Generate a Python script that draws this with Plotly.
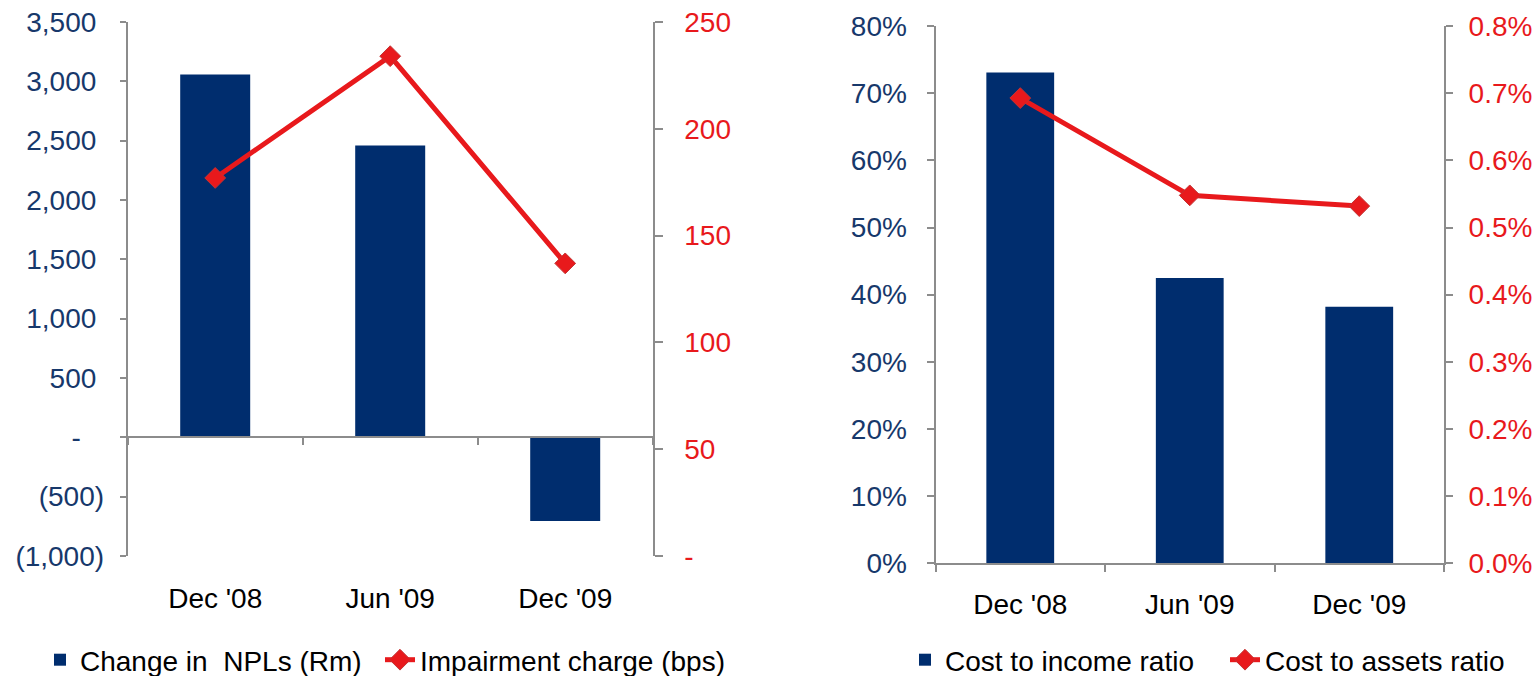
import plotly.graph_objects as go

# ---- data ----
periods = ["Dec '08", "Jun '09", "Dec '09"]
npl_change_rm = [3058, 2460, -705]
impairment_bps = [177, 234, 137]
cost_income_pct = [73.1, 42.5, 38.2]
cost_assets_pct = [0.693, 0.548, 0.532]

npl_tickvals = [-1000, -500, 0, 500, 1000, 1500, 2000, 2500, 3000, 3500]
bps_tickvals = [0, 50, 100, 150, 200, 250]
ci_tickvals = [0, 10, 20, 30, 40, 50, 60, 70, 80]
ca_tickvals = [0.0, 0.1, 0.2, 0.3, 0.4, 0.5, 0.6, 0.7, 0.8]

# ---- styling ----
NAVY = "#002D6E"
BLUE_TXT = "#17386B"
RED = "#E8191C"
RED_EDGE = "#C23434"
AXIS_GREY = "#8C8C8C"
FONT = "Liberation Sans, Arial, sans-serif"
FS = 28
NBSP = "\u00a0"


def accounting(v):
    """Excel-style accounting format: negatives in brackets, zero as a dash."""
    if v == 0:
        return "-" + NBSP * 3
    if v < 0:
        return "({:,.0f})".format(-v)
    return "{:,.0f}".format(v) + NBSP


npl_ticktext = [accounting(v) for v in npl_tickvals]
bps_ticktext = ["-" if v == 0 else str(v) for v in bps_tickvals]
ci_ticktext = ["{:.0f}%".format(v) for v in ci_tickvals]
ca_ticktext = ["{:.1f}%".format(v) for v in ca_tickvals]

fig = go.Figure()

# left panel
fig.add_trace(go.Bar(
    x=periods, y=npl_change_rm, name="Change in  NPLs (Rm)",
    marker=dict(color=NAVY, line=dict(width=0)), width=0.4,
    xaxis="x", yaxis="y", legend="legend",
))
fig.add_trace(go.Scatter(
    x=periods, y=impairment_bps, name="Impairment charge (bps)",
    mode="lines+markers",
    line=dict(color=RED, width=5),
    marker=dict(symbol="diamond", size=16, color=RED,
                line=dict(color=RED_EDGE, width=1)),
    xaxis="x", yaxis="y2", legend="legend2",
))
# carrier for the horizontal axis drawn through zero
fig.add_trace(go.Scatter(
    x=[-0.5, 2.5], y=[0, 0], mode="lines",
    line=dict(width=0, color="rgba(0,0,0,0)"),
    xaxis="x3", yaxis="y", showlegend=False, hoverinfo="skip",
))

# right panel
fig.add_trace(go.Bar(
    x=periods, y=cost_income_pct, name="Cost to income ratio",
    marker=dict(color=NAVY, line=dict(width=0)), width=0.4,
    xaxis="x2", yaxis="y3", legend="legend3",
))
fig.add_trace(go.Scatter(
    x=periods, y=cost_assets_pct, name="Cost to assets ratio",
    mode="lines+markers",
    line=dict(color=RED, width=5),
    marker=dict(symbol="diamond", size=16, color=RED,
                line=dict(color=RED_EDGE, width=1)),
    xaxis="x2", yaxis="y4", legend="legend4",
))

W, H = 1536, 676
M_T, M_B = 22, 113
PH = H - M_T - M_B

left_dom_x = [127.7 / W, 652.7 / W]
right_dom_x = [935.5 / W, 1444 / W]
left_dom_y = [(H - M_B - 556) / PH, 1.0]
right_dom_y = [0.0, (H - M_B - 26.3) / PH]

npl_lo, npl_hi = -1000, 3500
zero_frac = (0 - npl_lo) / (npl_hi - npl_lo)
zero_pos = left_dom_y[0] + zero_frac * (left_dom_y[1] - left_dom_y[0])

yaxis_common = dict(
    showgrid=False, zeroline=False,
    showline=True, linecolor=AXIS_GREY, linewidth=2,
    ticks="outside", tickcolor=AXIS_GREY, tickwidth=2,
)

legend_common = dict(
    orientation="h", yanchor="middle", xanchor="left",
    y=(H - M_B - 660) / PH,
    bgcolor="rgba(0,0,0,0)", borderwidth=0,
    font=dict(family=FONT, size=FS, color="black"),
    itemclick=False, itemdoubleclick=False,
)

fig.update_layout(
    width=W, height=H,
    margin=dict(l=0, r=0, t=M_T, b=M_B, autoexpand=False),
    paper_bgcolor="white", plot_bgcolor="white",
    font=dict(family=FONT, size=FS, color="black"),
    showlegend=True,
    barmode="overlay",
    xaxis=dict(
        domain=left_dom_x, anchor="y", type="category",
        categoryorder="array", categoryarray=periods, range=[-0.5, 2.5],
        showline=False, ticks="", showgrid=False, zeroline=False,
        tickfont=dict(family=FONT, size=FS, color="black"),
        ticklabelstandoff=23,
    ),
    # horizontal axis line through zero with category boundary ticks
    xaxis3=dict(
        overlaying="x", anchor="free", position=zero_pos, type="linear",
        range=[-0.5, 2.5], tickmode="array", tickvals=[-0.5, 0.5, 1.5, 2.5],
        showticklabels=False, showgrid=False, zeroline=False,
        showline=True, linecolor=AXIS_GREY, linewidth=2,
        ticks="outside", ticklen=7, tickcolor=AXIS_GREY, tickwidth=2,
    ),
    yaxis=dict(
        domain=left_dom_y, anchor="x", range=[npl_lo, npl_hi],
        tickmode="array", tickvals=npl_tickvals, ticktext=npl_ticktext,
        ticklen=6, ticklabelstandoff=10,
        tickfont=dict(family=FONT, size=FS, color=BLUE_TXT),
        **yaxis_common,
    ),
    yaxis2=dict(
        overlaying="y", side="right", anchor="x", range=[0, 250],
        tickmode="array", tickvals=bps_tickvals, ticktext=bps_ticktext,
        ticklen=8, ticklabelstandoff=16,
        tickfont=dict(family=FONT, size=FS, color=RED),
        **yaxis_common,
    ),
    xaxis2=dict(
        domain=right_dom_x, anchor="y3", type="category",
        categoryorder="array", categoryarray=periods, range=[-0.5, 2.5],
        showline=True, linecolor=AXIS_GREY, linewidth=2,
        ticks="outside", tickson="boundaries", ticklen=7,
        tickcolor=AXIS_GREY, tickwidth=2,
        showgrid=False, zeroline=False,
        tickfont=dict(family=FONT, size=FS, color="black"),
        ticklabelstandoff=15,
    ),
    yaxis3=dict(
        domain=right_dom_y, anchor="x2", range=[0, 80],
        tickmode="array", tickvals=ci_tickvals, ticktext=ci_ticktext,
        ticklen=7, ticklabelstandoff=14,
        tickfont=dict(family=FONT, size=FS, color=BLUE_TXT),
        **yaxis_common,
    ),
    yaxis4=dict(
        overlaying="y3", side="right", anchor="x2", range=[0, 0.8],
        tickmode="array", tickvals=ca_tickvals, ticktext=ca_ticktext,
        ticklen=7, ticklabelstandoff=10,
        tickfont=dict(family=FONT, size=FS, color=RED),
        **yaxis_common,
    ),
    legend=dict(x=(85 - 45) / W, **legend_common),
    legend2=dict(x=(425 - 45) / W, **legend_common),
    legend3=dict(x=(950 - 45) / W, **legend_common),
    legend4=dict(x=(1270 - 45) / W, **legend_common),
)

fig.write_html("out.html")
